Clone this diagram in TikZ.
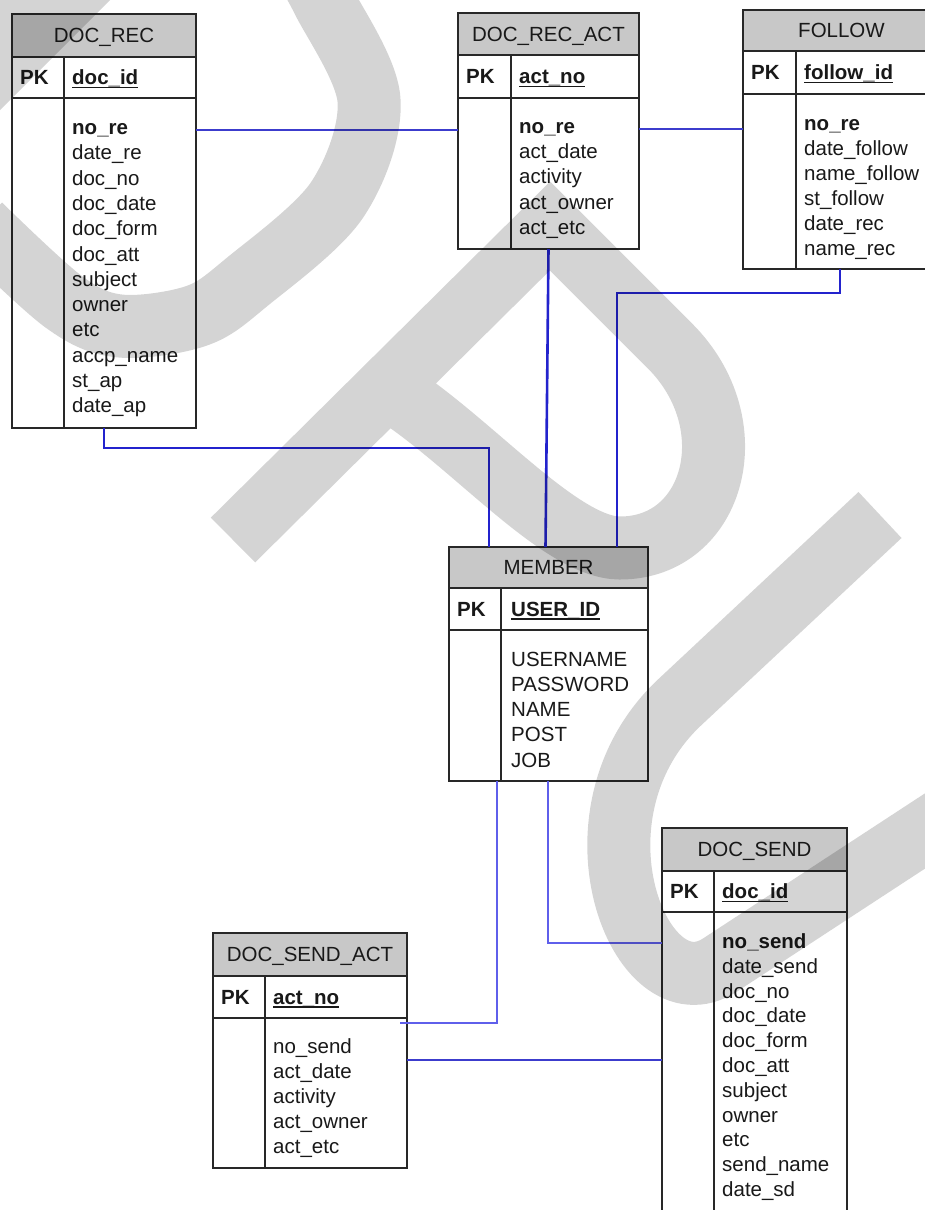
\documentclass[tikz,border=0pt]{standalone}
\usepackage{fontspec}
\setmainfont{Liberation Sans}
\usetikzlibrary{calc}
\definecolor{hdrgray}{RGB}{200,200,200}
\definecolor{bordercol}{RGB}{40,40,40}
\definecolor{txtcol}{RGB}{25,25,25}
\definecolor{linkdark}{RGB}{35,35,205}
\definecolor{linkmid}{RGB}{60,60,205}
\definecolor{linklight}{RGB}{95,95,235}
\tikzset{
  tblbox/.style={draw=bordercol, line width=1.4pt, fill=white, inner sep=0pt, outer sep=0pt},
  hdrbox/.style={draw=bordercol, line width=1.4pt, fill=hdrgray, inner sep=0pt, outer sep=0pt},
  sepline/.style={draw=bordercol, line width=1.4pt},
  hdrtext/.style={font=\fontsize{20.5}{24}\selectfont, text=txtcol, inner sep=0pt, anchor=base},
  fldtext/.style={font=\fontsize{20.5}{24}\selectfont, text=txtcol, inner sep=0pt, anchor=base west},
  keytext/.style={font=\fontsize{20.5}{24}\selectfont\bfseries, text=txtcol, inner sep=0pt, anchor=base west},
  keyline/.style={draw=txtcol, line width=1.3pt},
  linkA/.style={draw=linkdark, line width=2.6pt},
  linkB/.style={draw=linkmid, line width=1.7pt},
  linkC/.style={draw=linklight, line width=1.6pt},
  linkD/.style={draw=linkmid, line width=2.2pt},
  wm/.style={draw=black, opacity=0.17, line width=63pt, line cap=butt, line join=miter},
  wmfill/.style={fill=black, opacity=0.17},
}
% #1 name, #2 left, #3 top, #4 right, #5 bottom, #6 header bottom, #7 pk bottom, #8 divider x, #9 title
\newcommand{\ertbl}[9]{%
  \node[tblbox, anchor=north west, minimum width={(#4-#2)*1pt}, minimum height={(#5-#3)*1pt}] (#1) at (#2,#3) {};
  \node[hdrbox, anchor=north west, minimum width={(#4-#2)*1pt}, minimum height={(#6-#3)*1pt}] (#1-h) at (#2,#3) {};
  \node[hdrtext] (#1-t) at ({(#2+#4)/2},{(#3+#6)/2+7.3}) {#9};
  \draw[sepline] (#2,#7) -- (#4,#7);
  \draw[sepline] (#8,#6) -- (#8,#5);
  \node[keytext] (#1-pk) at ({#2+8},{(#6+#7)/2+7.3}) {PK};
}
\begin{document}
\begin{tikzpicture}[x=1pt, y=-1pt]
\useasboundingbox (0,0) rectangle (925,1210);
\clip (0,0) rectangle (925,1210);
\fill[white] (0,0) rectangle (925,1210);

% ---------- DOC_REC ----------
\ertbl{rec}{12}{14}{196}{428}{57}{98}{64}{DOC\_REC}
\node[keytext] (rec-k) at (72,84.8) {doc\_id};
\draw[keyline] (rec-k.south west) -- (rec-k.south east);
\node[keytext] (rec-nr) at (72,134.5) {no\_re};
\foreach \txt [count=\i] in {date\_re, doc\_no, doc\_date, doc\_form, doc\_att, subject, owner, etc, accp\_name, st\_ap, date\_ap}
  \node[fldtext] (rec-f\i) at (72,{134.5+25.3*\i}) {\txt};

% ---------- DOC_REC_ACT ----------
\ertbl{ra}{458}{13}{639}{249}{55}{98}{511}{DOC\_REC\_ACT}
\node[keytext] (ra-k) at (519,83.8) {act\_no};
\draw[keyline] (ra-k.south west) -- (ra-k.south east);
\node[keytext] (ra-nr) at (519,133.5) {no\_re};
\foreach \txt [count=\i] in {act\_date, activity, act\_owner, act\_etc}
  \node[fldtext] (ra-f\i) at (519,{133.5+25.2*\i}) {\txt};

% ---------- FOLLOW ----------
\ertbl{fo}{743}{10}{940}{269}{51}{94}{796}{FOLLOW}
\node[keytext] (fo-k) at (804,79.8) {follow\_id};
\draw[keyline] (fo-k.south west) -- (fo-k.south east);
\node[keytext] (fo-nr) at (804,130.5) {no\_re};
\foreach \txt [count=\i] in {date\_follow, name\_follow, st\_follow, date\_rec, name\_rec}
  \node[fldtext] (fo-f\i) at (804,{130.5+25*\i}) {\txt};

% ---------- MEMBER ----------
\ertbl{me}{449}{547}{648}{781}{588}{630}{501}{MEMBER}
\node[keytext] (me-k) at (511,616.3) {USER\_ID};
\draw[keyline] (me-k.south west) -- (me-k.south east);
\foreach \txt [count=\i from 0] in {USERNAME, PASSWORD, NAME, POST, JOB}
  \node[fldtext] (me-f\i) at (511,{666.3+25.2*\i}) {\txt};

% ---------- DOC_SEND_ACT ----------
\ertbl{sa}{213}{933}{407}{1168}{976}{1018}{265}{DOC\_SEND\_ACT}
\node[keytext] (sa-k) at (273,1004.3) {act\_no};
\draw[keyline] (sa-k.south west) -- (sa-k.south east);
\foreach \txt [count=\i from 0] in {no\_send, act\_date, activity, act\_owner, act\_etc}
  \node[fldtext] (sa-f\i) at (273,{1053.5+25*\i}) {\txt};

% ---------- DOC_SEND ----------
\ertbl{ds}{662}{828}{847}{1240}{871}{912}{714}{DOC\_SEND}
\node[keytext] (ds-k) at (722,898.8) {doc\_id};
\draw[keyline] (ds-k.south west) -- (ds-k.south east);
\node[keytext] (ds-nr) at (722,948.5) {no\_send};
\foreach \txt [count=\i] in {date\_send, doc\_no, doc\_date, doc\_form, doc\_att, subject, owner, etc, send\_name, date\_sd}
  \node[fldtext] (ds-f\i) at (722,{948.5+24.8*\i}) {\txt};

% ---------- connectors ----------
\coordinate (j3a) at (104,448);
\coordinate (j3b) at (489,448);
\coordinate (j5a) at (840,293);
\coordinate (j5b) at (617,293);
\coordinate (j6a) at (497,1023);
\coordinate (j6b) at (400,1023);
\coordinate (j7) at (548,943);
\coordinate (j8) at (0,1060);

\draw[linkB] (rec.east |- rec-nr) -- (ra.west |- rec-nr);
\draw[linkB] (ra.east |- ra-nr) -- (fo.west |- ra-nr);
\draw[linkA] (rec.south -| j3a) -- (j3a) -- (j3b) -- (j3b |- me.north);
\draw[linkA] (ra.south) -- ($(me.north)+(-3,0)$);
\draw[linkA] (fo.south -| j5a) -- (j5a) -- (j5b) -- (j5b |- me.north);
\draw[linkC] (me.south -| j6a) -- (j6a) -- (j6b);
\draw[linkC] (me.south -| j7) -- (j7) -- (ds.west |- j7);
\draw[linkD] (sa.east |- j8) -- (ds.west |- j8);

% ---------- watermark ----------
\fill[wmfill] (0,0) -- (110,0) -- (0,110) -- cycle;
\draw[wm] plot[smooth, tension=0.55] coordinates {(300,-40) (323,0) (369,100) (337,200) (247,282) (196,316) (120,326) (64,302) (-20,225)};
\draw[wm] (233,540) -- (550,226) -- (670,346) .. controls (748,424) and (715,548) .. (620,548) .. controls (560,548) and (470,440) .. (390,390);
\draw[wm] (880,515) -- (680,702) .. controls (560,814) and (640,1017) .. (720,965) -- (980,795);
\end{tikzpicture}
\end{document}
